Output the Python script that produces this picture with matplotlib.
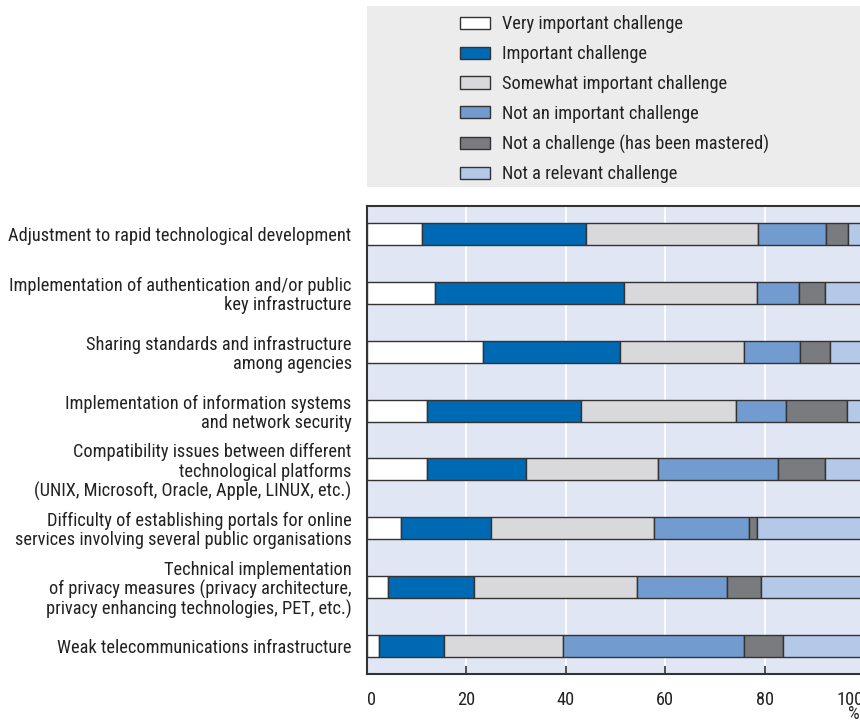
import matplotlib.pyplot as plt
import matplotlib.patches as mpatches
import numpy as np
from matplotlib import font_manager

# Challenge categories (top to bottom)
challenges = [
    'Adjustment to rapid technological development',
    'Implementation of authentication and/or public\nkey infrastructure',
    'Sharing standards and infrastructure\namong agencies',
    'Implementation of information systems\nand network security',
    'Compatibility issues between different\ntechnological platforms\n(UNIX, Microsoft, Oracle, Apple, LINUX, etc.)',
    'Difficulty of establishing portals for online\nservices involving several public organisations',
    'Technical implementation\nof privacy measures (privacy architecture,\nprivacy enhancing technologies, PET, etc.)',
    'Weak telecommunications infrastructure',
]

series_names = [
    'Very important challenge',
    'Important challenge',
    'Somewhat important challenge',
    'Not an important challenge',
    'Not a challenge (has been mastered)',
    'Not a relevant challenge',
]

# Shares in %, one list per series, same order as challenges
very_important = [11.1, 13.7, 23.3, 12.0, 12.0, 6.8, 4.2, 2.5]
important = [33.0, 38.0, 27.6, 31.0, 19.9, 18.2, 17.3, 12.9]
somewhat = [34.5, 26.7, 25.0, 31.2, 26.7, 32.8, 32.8, 24.1]
not_important = [13.8, 8.5, 11.2, 10.2, 24.1, 19.0, 18.1, 36.3]
mastered = [4.3, 5.3, 6.1, 12.1, 9.5, 1.7, 6.9, 7.9]
not_relevant = [3.4, 7.8, 6.8, 3.5, 7.8, 21.5, 20.7, 16.3]

x_ticks = [0, 20, 40, 60, 80, 100]

colors = ['#ffffff', '#0069b4', '#d9d9db', '#729bd0', '#7a7b7e', '#b4c8e8']

# condensed font, like the original
available = {f.name for f in font_manager.fontManager.ttflist}
family = 'DejaVu Sans'
for cand in ['Roboto Condensed', 'PT Sans Narrow', 'Archivo Narrow', 'Liberation Sans Narrow']:
    if cand in available:
        family = cand
        break
plt.rcParams['font.family'] = [family, 'DejaVu Sans']
FS = 13.2

fig = plt.figure(figsize=(8.6, 7.22), dpi=100)
ax = fig.add_axes([367 / 860, 1 - 674 / 722, (864 - 367) / 860, (674 - 206) / 722])
ax.set_facecolor('#e0e6f3')

data = [very_important, important, somewhat, not_important, mastered, not_relevant]
y = np.arange(len(challenges))
left = np.zeros(len(challenges))
handles = []
for name, vals, col in zip(series_names, data, colors):
    b = ax.barh(y, vals, left=left, height=0.375, color=col,
                edgecolor='#333333', linewidth=1.0, label=name, zorder=3)
    left += np.array(vals)
    handles.append(b)

ax.set_xlim(0, 100)
ax.set_ylim(len(challenges) - 0.525, -0.475)
ax.set_xticks(x_ticks)
ax.set_xticklabels([str(v) for v in x_ticks])
ax.set_yticks(y)
ax.set_yticklabels(challenges, fontsize=FS, color='#222222', linespacing=1.07)
ax.tick_params(axis='y', length=0, pad=11)
ax.tick_params(axis='x', direction='in', length=6, width=1.2, color='#333333',
               labelsize=FS, labelcolor='#222222', pad=12)
xl = ax.get_xticklabels()
xl[0].set_ha('left')
xl[-1].set_ha('right')
ax.grid(axis='x', color='white', linewidth=1.3, zorder=0)
for s in ['left', 'bottom', 'top']:
    ax.spines[s].set_color('#333333')
    ax.spines[s].set_linewidth(1.5)
ax.spines['right'].set_visible(False)

fig.text(848 / 860, 1 - 714 / 722, '%', fontsize=FS, color='#222222',
         ha='left', va='center')

# Legend background
fig.patches.append(mpatches.Rectangle((367 / 860, 1 - 187 / 722), 1, 181 / 722,
                                      transform=fig.transFigure,
                                      facecolor='#ececec', edgecolor='none', zorder=0))
leg = fig.legend(handles=handles, loc='upper left',
                 bbox_to_anchor=(443 / 860, 1 + 1 / 722), frameon=False,
                 fontsize=FS, handlelength=1.65, handleheight=0.66,
                 labelspacing=0.64, handletextpad=0.65)
for t in leg.get_texts():
    t.set_color('#222222')

fig.savefig('out.png', dpi=100)
